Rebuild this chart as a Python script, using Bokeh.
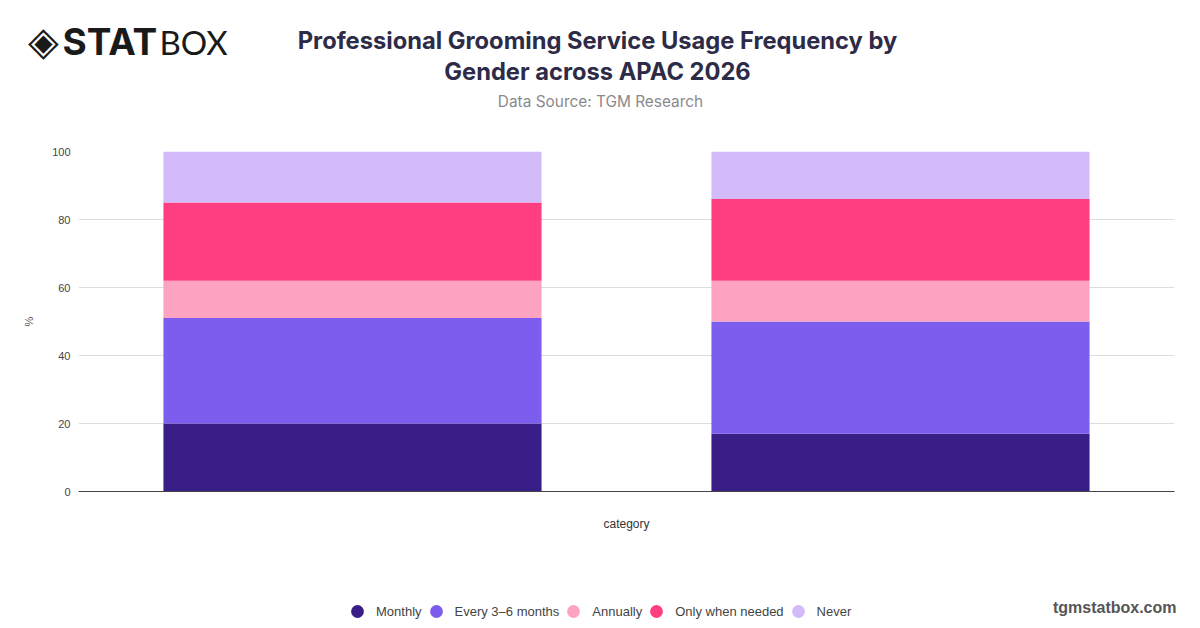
from bokeh.plotting import figure
from bokeh.models import Label, Legend, LegendItem, Range1d, FixedTicker, ColumnDataSource
from bokeh.layouts import column
from bokeh.embed import file_html
from bokeh.resources import INLINE

# ---------------- data ----------------
categories = ["Male", "Female"]
series = ["Monthly", "Every 3–6 months", "Annually", "Only when needed", "Never"]
monthly = [20, 17]
every_3_6_months = [31, 33]
annually = [11, 12]
only_when_needed = [23, 24]
never = [15, 14]
y_ticks = [0, 20, 40, 60, 80, 100]

colors = ["#381e86", "#7c5ded", "#fda3c1", "#ff3d81", "#d3bbfa"]

title_lines = ["Professional Grooming Service Usage Frequency by", "Gender across APAC 2026"]
subtitle = "Data Source: TGM Research"
site = "tgmstatbox.com"

W = 1184
HEAD_H, MAIN_H, FOOT_H = 120, 420, 80
SANS = "Liberation Sans"


def blank(h):
    f = figure(width=W, height=h, x_range=Range1d(0, W), y_range=Range1d(0, h),
               x_axis_type=None, y_axis_type=None, toolbar_location=None,
               output_backend="svg", min_border=0, frame_align=False)
    f.outline_line_color = None
    f.grid.grid_line_color = None
    return f


def lab(f, h, text, px, py, size, color, style="normal", align="center", font="Inter"):
    f.add_layout(Label(x=px, y=h - py, x_units="screen", y_units="screen", text=text,
                       text_font=font, text_font_size=size, text_color=color,
                       text_font_style=style, text_align=align, text_baseline="middle"))


# ---------------- header ----------------
head = blank(HEAD_H)
lab(head, HEAD_H, title_lines[0], 597, 40, "23.7px", "#2d2b47", "bold")
lab(head, HEAD_H, title_lines[1], 597, 71, "23.7px", "#2d2b47", "bold")
lab(head, HEAD_H, subtitle, 600, 101, "15.4px", "#8a8a8a")
lab(head, HEAD_H, "◈", 43, 40, "40px", "#1a1a1a", font="DejaVu Sans")
lab(head, HEAD_H, "STAT", 62, 41, "37px", "#1a1a1a", "bold", align="left")
lab(head, HEAD_H, "BOX", 159, 41, "33px", "#1a1a1a", align="left", font="Lato")

# ---------------- main chart ----------------
xs = list(range(len(categories)))
p = figure(
    width=W, height=MAIN_H,
    x_range=Range1d(-0.5, len(categories) - 0.5),
    y_range=Range1d(0, 100),
    output_backend="svg", toolbar_location=None, frame_align=False,
    min_border_left=78, min_border_right=10, min_border_top=31, min_border_bottom=49,
)
p.outline_line_color = None

keys = ["monthly", "every", "annually", "only", "never"]
src = ColumnDataSource(dict(x=xs, cat=categories, monthly=monthly, every=every_3_6_months,
                            annually=annually, only=only_when_needed, never=never))
p.vbar_stack(keys, x="x", width=0.69, color=colors, line_color=None, source=src)

p.yaxis.ticker = FixedTicker(ticks=y_ticks)
p.yaxis.axis_line_color = None
p.yaxis.major_tick_line_color = None
p.yaxis.minor_tick_line_color = None
p.yaxis.major_tick_out = 0
p.yaxis.minor_tick_out = 0
p.yaxis.major_label_text_font = SANS
p.yaxis.major_label_text_font_size = "11px"
p.yaxis.major_label_text_color = "#444444"
p.yaxis.major_label_standoff = 8
p.yaxis.axis_label = "%"
p.yaxis.axis_label_text_font = SANS
p.yaxis.axis_label_text_font_style = "normal"
p.yaxis.axis_label_text_font_size = "11px"
p.yaxis.axis_label_text_color = "#555555"
p.yaxis.axis_label_standoff = 14

p.xaxis.ticker = FixedTicker(ticks=[])
p.xaxis.axis_line_color = "#444444"
p.xaxis.axis_line_width = 1
p.xaxis.major_tick_line_color = None
p.xaxis.minor_tick_line_color = None
p.xaxis.major_label_standoff = 0
p.xaxis.axis_label = "category"
p.xaxis.axis_label_text_font = SANS
p.xaxis.axis_label_text_font_style = "normal"
p.xaxis.axis_label_text_font_size = "12px"
p.xaxis.axis_label_text_color = "#333333"
p.xaxis.axis_label_standoff = 25

p.xgrid.grid_line_color = None
p.ygrid.grid_line_color = "#dddddd"
p.ygrid.grid_line_width = 1

# ---------------- footer: legend + site ----------------
foot = blank(FOOT_H)
items = []
for name, c in zip(series, colors):
    r = foot.ellipse(x=[-100], y=[-100], width=12, height=12, width_units="screen",
                     height_units="screen", fill_color=c, line_color=None)
    items.append(LegendItem(label=name, renderers=[r]))

legend = Legend(items=items, orientation="horizontal", location=(349, 1),
                border_line_color=None, background_fill_alpha=0, padding=0, margin=0,
                glyph_width=16, glyph_height=16, label_standoff=11, spacing=6,
                label_text_font=SANS, label_text_font_size="13px",
                label_text_color="#444444", label_height=16)
foot.add_layout(legend)
lab(foot, FOOT_H, site, 1176, 67, "16px", "#555555", "bold", align="right", font=SANS)

layout = column(head, p, foot, spacing=0)
open("out.html", "w").write(file_html(layout, INLINE))
